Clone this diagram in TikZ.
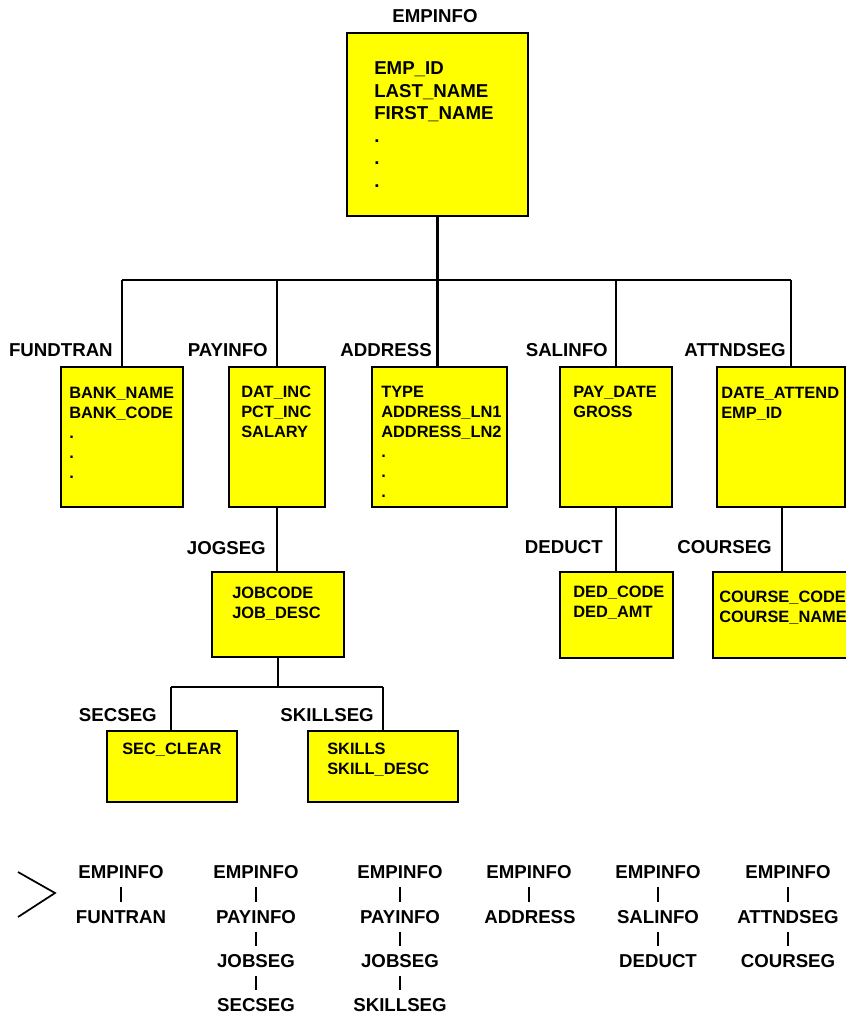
\documentclass[tikz,border=0pt]{standalone}
\usepackage{fontspec}
\setmainfont{Liberation Sans}
\usetikzlibrary{fit}
\definecolor{segyellow}{RGB}{255,255,0}
\tikzset{
  seg/.style={draw=black, fill=segyellow, line width=1.9pt, inner sep=0pt},
  link/.style={draw=black, line width=1.6pt},
  seglabel/.style={anchor=east, inner sep=0pt, font=\fontsize{14}{16}\selectfont\bfseries},
  rootfields/.style={anchor=north west, inner sep=0pt, align=left,
    font=\fontsize{14}{16.9}\selectfont\bfseries},
  fields/.style={anchor=north west, inner sep=0pt, align=left,
    font=\fontsize{12.3}{15}\selectfont\bfseries},
  pathname/.style={inner sep=0pt, font=\fontsize{14}{16}\selectfont\bfseries},
  pathbar/.style={draw=black, line width=1.4pt, shorten <=6pt, shorten >=6pt}
}
\begin{document}
\begin{tikzpicture}[x=0.75pt, y=-0.75pt]
\useasboundingbox (0,0) rectangle (846,1015);

% root segment
\node[seglabel, anchor=center] (lroot) at (435,16.5) {EMPINFO};
\node[seg, fit={(347,33) (528,216)}] (emp) {};
\node[rootfields] (femp) at (374,61.5) {EMP\_ID\\LAST\_NAME\\FIRST\_NAME\\.\\.\\.};

% first level segments
\node[seg, fit={(61,367) (183,507)}] (fund) {};
\node[seg, fit={(229,367) (325,507)}] (pay) {};
\node[seg, fit={(372,367) (507,507)}] (addr) {};
\node[seg, fit={(560,367) (672,507)}] (sal) {};
\node[seg, fit={(717,367) (845,507)}] (att) {};

\node[seglabel] (lfund) at (113,350) {FUNDTRAN};
\node[seglabel] (lpay) at (268,350) {PAYINFO};
\node[seglabel] (laddr) at (432,350) {ADDRESS};
\node[seglabel] (lsal) at (608,350) {SALINFO};
\node[seglabel] (latt) at (786,350) {ATTNDSEG};

\node[fields] (ffund) at (69,387) {BANK\_NAME\\BANK\_CODE\\.\\.\\.};
\node[fields] (fpay) at (241,386) {DAT\_INC\\PCT\_INC\\SALARY};
\node[fields] (faddr) at (381,386) {TYPE\\ADDRESS\_LN1\\ADDRESS\_LN2\\.\\.\\.};
\node[fields] (fsal) at (573,386) {PAY\_DATE\\GROSS};
\node[fields] (fatt) at (721,387) {DATE\_ATTEND\\EMP\_ID};

% second level segments
\node[seg, fit={(212,572) (344,657)}] (job) {};
\node[seg, fit={(560,572) (673,658)}] (ded) {};
\node[seg, fit={(713,572) (850,658)}] (crs) {};

\node[seglabel] (ljob) at (266,548) {JOGSEG};
\node[seglabel] (lded) at (603,547) {DEDUCT};
\node[seglabel] (lcrs) at (772,547) {COURSEG};

\node[fields] (fjob) at (232,587) {JOBCODE\\JOB\_DESC};
\node[fields] (fded) at (573,586) {DED\_CODE\\DED\_AMT};
\node[fields] (fcrs) at (719,591) {COURSE\_CODE\\COURSE\_NAME};

% third level segments
\node[seg, fit={(107,731) (237,802)}] (sec) {};
\node[seg, fit={(308,731) (458,802)}] (skill) {};

\node[seglabel] (lsec) at (157,715) {SECSEG};
\node[seglabel] (lskill) at (374,715) {SKILLSEG};

\node[fields] (fsec) at (122,743) {SEC\_CLEAR};
\node[fields] (fskill) at (327,743) {SKILLS\\SKILL\_DESC};

% connectors
\coordinate (busL) at (122,280);
\coordinate (busR) at (791,280);
\coordinate (busJL) at (171,687);
\coordinate (busJR) at (383,687);

\draw[link] (busL) -- (busR);
\draw[link] (emp.south) -- (emp.south |- addr.north);
\draw[link] (busL) -- (fund.north);
\draw[link] (pay.north |- busL) -- (pay.north);
\draw[link] (sal.north |- busL) -- (sal.north);
\draw[link] (busR) -- (busR |- att.north);

\draw[link] (pay.south) -- (pay.south |- job.north);
\draw[link] (sal.south) -- (sal.south |- ded.north);
\draw[link] (782,507) -- (crs.north -| 782,0);

\draw[link] (busJL) -- (busJR);
\draw[link] (job.south) -- (job.south |- busJL);
\draw[link] (busJL) -- (busJL |- sec.north);
\draw[link] (busJR) -- (busJR |- skill.north);

% hierarchical paths
\draw[line width=1.3pt] (18,872) -- (55,893) -- (18,917);

\node[pathname] (p1a) at (121,872) {EMPINFO};
\node[pathname] (p1b) at (121,917) {FUNTRAN};

\node[pathname] (p2a) at (256,872) {EMPINFO};
\node[pathname] (p2b) at (256,917) {PAYINFO};
\node[pathname] (p2c) at (256,961) {JOBSEG};
\node[pathname] (p2d) at (256,1005) {SECSEG};

\node[pathname] (p3a) at (400,872) {EMPINFO};
\node[pathname] (p3b) at (400,917) {PAYINFO};
\node[pathname] (p3c) at (400,961) {JOBSEG};
\node[pathname] (p3d) at (400,1005) {SKILLSEG};

\node[pathname] (p4a) at (529,872) {EMPINFO};
\node[pathname] (p4b) at (530,917) {ADDRESS};

\node[pathname] (p5a) at (658,872) {EMPINFO};
\node[pathname] (p5b) at (658,917) {SALINFO};
\node[pathname] (p5c) at (658,961) {DEDUCT};

\node[pathname] (p6a) at (788,872) {EMPINFO};
\node[pathname] (p6b) at (788,917) {ATTNDSEG};
\node[pathname] (p6c) at (788,961) {COURSEG};

\foreach \a/\b in {p1a/p1b, p2a/p2b, p2b/p2c, p2c/p2d, p3a/p3b, p3b/p3c, p3c/p3d,
                   p4a/p4b, p5a/p5b, p5b/p5c, p6a/p6b, p6b/p6c}
  \draw[pathbar] (\a.south) -- (\a.south |- \b.north);
\end{tikzpicture}
\end{document}
